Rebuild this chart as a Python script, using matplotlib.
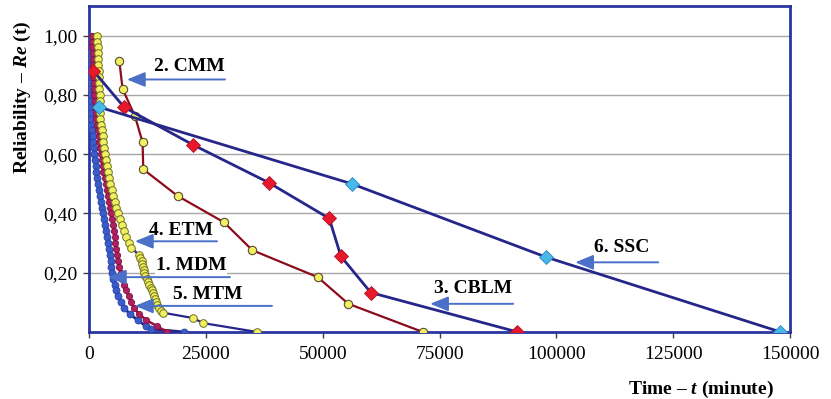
import numpy as np
import matplotlib.pyplot as plt
from matplotlib.ticker import FixedLocator

plt.rcParams['font.family'] = ['Liberation Serif', 'DejaVu Serif']
plt.rcParams['mathtext.fontset'] = 'custom'
plt.rcParams['mathtext.it'] = 'Liberation Serif:bold:italic'
plt.rcParams['mathtext.rm'] = 'Liberation Serif:bold'

# 1. MDM
mdm_t = [110, 130, 150, 160, 170, 180, 190, 210, 240, 280, 310, 340, 370, 400, 430,
         550, 690, 800, 920, 1050, 1180, 1300, 1430, 1580, 1800, 2000, 2200, 2420,
         2610, 2820, 3060, 3300, 3510, 3750, 3960, 4150, 4300, 4450, 4620, 4770, 4920,
         5200, 5500, 5780, 6160, 6780, 7530, 8840, 10400, 12200, 13270, 20330]
mdm_r = [1.00, 0.98, 0.96, 0.94, 0.92, 0.90, 0.88, 0.86, 0.84, 0.82, 0.80, 0.78, 0.76,
         0.74, 0.72, 0.70, 0.68, 0.66, 0.64, 0.62, 0.60, 0.58, 0.56, 0.54, 0.52, 0.50,
         0.48, 0.46, 0.44, 0.42, 0.40, 0.38, 0.36, 0.34, 0.32, 0.30, 0.28, 0.26, 0.24,
         0.22, 0.20, 0.18, 0.16, 0.14, 0.12, 0.10, 0.08, 0.06, 0.04, 0.02, 0.01, 0.0]

# 5. MTM
mtm_t = [640, 690, 730, 770, 810, 860, 900, 940, 1030, 1090, 1180, 1260, 1330, 1410,
         1500, 1670, 1860, 2050, 2230, 2400, 2570, 2740, 2910, 3100, 3360, 3600, 3830,
         4070, 4300, 4540, 4730, 4920, 5090, 5290, 5480, 5670, 5860, 6060, 6250, 6510,
         6760, 7020, 7490, 7980, 8470, 9050, 9670, 10760, 12280, 14550, 16690]
mtm_r = [1.00, 0.98, 0.96, 0.94, 0.92, 0.90, 0.88, 0.86, 0.84, 0.82, 0.80, 0.78, 0.76,
         0.74, 0.72, 0.70, 0.68, 0.66, 0.64, 0.62, 0.60, 0.58, 0.56, 0.54, 0.52, 0.50,
         0.48, 0.46, 0.44, 0.42, 0.40, 0.38, 0.36, 0.34, 0.32, 0.30, 0.28, 0.26, 0.24,
         0.22, 0.20, 0.18, 0.16, 0.14, 0.12, 0.10, 0.08, 0.06, 0.04, 0.02, 0.0]

# 4. ETM
etm_t = [1710, 1780, 1840, 1880, 1950, 2010, 2050, 2120, 2180, 2230, 2270, 2310, 2350,
         2420, 2460, 2610, 2760, 2930, 3080, 3250, 3420, 3600, 3770, 3980, 4300, 4600,
         4900, 5220, 5520, 5840, 6230, 6610, 7000, 7430, 7920, 8560, 8990, 10700, 11020,
         11300, 11450, 11560, 11680, 11830, 12090, 12350, 12630, 12950, 13200, 13420,
         13630, 13870, 14120, 14380, 14660, 14980, 15410, 15840, 22260, 24400, 35950]
etm_r = [1.00, 0.98, 0.96, 0.94, 0.92, 0.90, 0.88, 0.86, 0.84, 0.82, 0.80, 0.78, 0.76,
         0.74, 0.72, 0.70, 0.68, 0.66, 0.64, 0.62, 0.60, 0.58, 0.56, 0.54, 0.52, 0.50,
         0.48, 0.46, 0.44, 0.42, 0.40, 0.38, 0.36, 0.34, 0.32, 0.30, 0.285, 0.26, 0.25,
         0.24, 0.23, 0.22, 0.21, 0.20, 0.19, 0.18, 0.17, 0.16, 0.15, 0.14, 0.13, 0.12,
         0.11, 0.10, 0.09, 0.08, 0.07, 0.065, 0.047, 0.030, 0.0]

# 2. CMM
cmm_t = [6490, 7200, 9850, 11480, 11620, 18980, 28890, 34940, 48930, 55490, 71400]
cmm_r = [0.916, 0.82, 0.728, 0.64, 0.549, 0.459, 0.370, 0.276, 0.185, 0.095, 0.0]

# 3. CBLM
cblm_t = [920, 7550, 22200, 38450, 51400, 53900, 60280, 91650]
cblm_r = [0.882, 0.758, 0.632, 0.504, 0.383, 0.255, 0.133, 0.0]

# 6. SSC
ssc_t = [2140, 56200, 97700, 147900]
ssc_r = [0.759, 0.50, 0.253, 0.0]

labels = ['2. CMM', '4. ETM', '1. MDM', '5. MTM', '6. SSC', '3. CBLM']
label_xy = [(21400, 0.895), (19700, 0.342), (21830, 0.224), (25470, 0.127),
            (113850, 0.286), (82180, 0.146)]
arrow_tail = [(29100, 0.852), (27400, 0.306), (30170, 0.185), (39160, 0.088),
              (121770, 0.235), (90740, 0.095)]
arrow_tip = [(8130, 0.852), (9840, 0.306), (4070, 0.185), (9840, 0.088),
             (104000, 0.235), (72970, 0.095)]

navy = '#26268a'
fig = plt.figure(figsize=(8.31, 3.99), dpi=100)
ax = fig.add_axes([0.107, 0.168, 0.844, 0.817])

ax.plot(mdm_t, mdm_r, '-o', color=navy, lw=2, ms=5, mfc='#3a5cc8', mec='#2a40a8',
        mew=0.6, zorder=3)
ax.plot(mtm_t, mtm_r, '-o', color='#9a1040', lw=1.8, ms=4.5, mfc='#b02060', mec='#801040',
        mew=0.6, zorder=3)
ax.plot(etm_t, etm_r, '-o', color=navy, lw=1.6, ms=5.5, mfc='#f0f060', mec='#707020',
        mew=0.7, zorder=4)
ax.plot(cmm_t, cmm_r, '-o', color='#8c0c1c', lw=1.6, ms=6, mfc='#f0f060', mec='#5a4a30',
        mew=0.8, zorder=5)
ax.plot(cblm_t, cblm_r, '-D', color=navy, lw=2, ms=7, mfc='#e8182c', mec='#b01020',
        mew=0.6, zorder=6)
ax.plot(ssc_t, ssc_r, '-D', color=navy, lw=2, ms=7, mfc='#48b8ea', mec='#2a88c0',
        mew=0.6, zorder=6)

for lab, xy, tail, tip in zip(labels, label_xy, arrow_tail, arrow_tip):
    ax.text(xy[0], xy[1], lab, ha='center', va='center', fontsize=14, fontweight='bold',
            zorder=7, bbox=dict(facecolor='white', edgecolor='none', pad=0.5))
    ax.annotate('', xy=tip, xytext=tail, zorder=8,
                arrowprops=dict(arrowstyle='-|>,head_length=1.1,head_width=0.45',
                                color='#4a70c8', lw=1.4, shrinkA=0, shrinkB=0))

ax.set_xlim(0, 150000)
ax.set_ylim(0, 1.1)
ax.xaxis.set_major_locator(FixedLocator([0, 25000, 50000, 75000, 100000, 125000, 150000]))
ax.set_xticklabels(['0', '25000', '50000', '75000', '100000', '125000', '150000'])
ax.yaxis.set_major_locator(FixedLocator([0.2, 0.4, 0.6, 0.8, 1.0]))
ax.set_yticklabels(['0,20', '0,40', '0,60', '0,80', '1,00'])
ax.tick_params(labelsize=14, length=4, width=1, color='#404040', pad=4)
ax.tick_params(axis='x', pad=6)
ax.grid(axis='y', color='#a8a8a8', lw=1)
ax.set_axisbelow(True)
for s in ax.spines.values():
    s.set_color('#2a35a0')
    s.set_linewidth(2)

fig.text(0.027, 0.757, r'Reliability – $Re$ (t)', rotation=90, ha='center', va='center',
         fontsize=14, fontweight='bold')
fig.text(0.8436, 0.025, r'Time – $t$ (minute)', ha='center', va='center',
         fontsize=14, fontweight='bold')

fig.savefig('out.png', dpi=100)
